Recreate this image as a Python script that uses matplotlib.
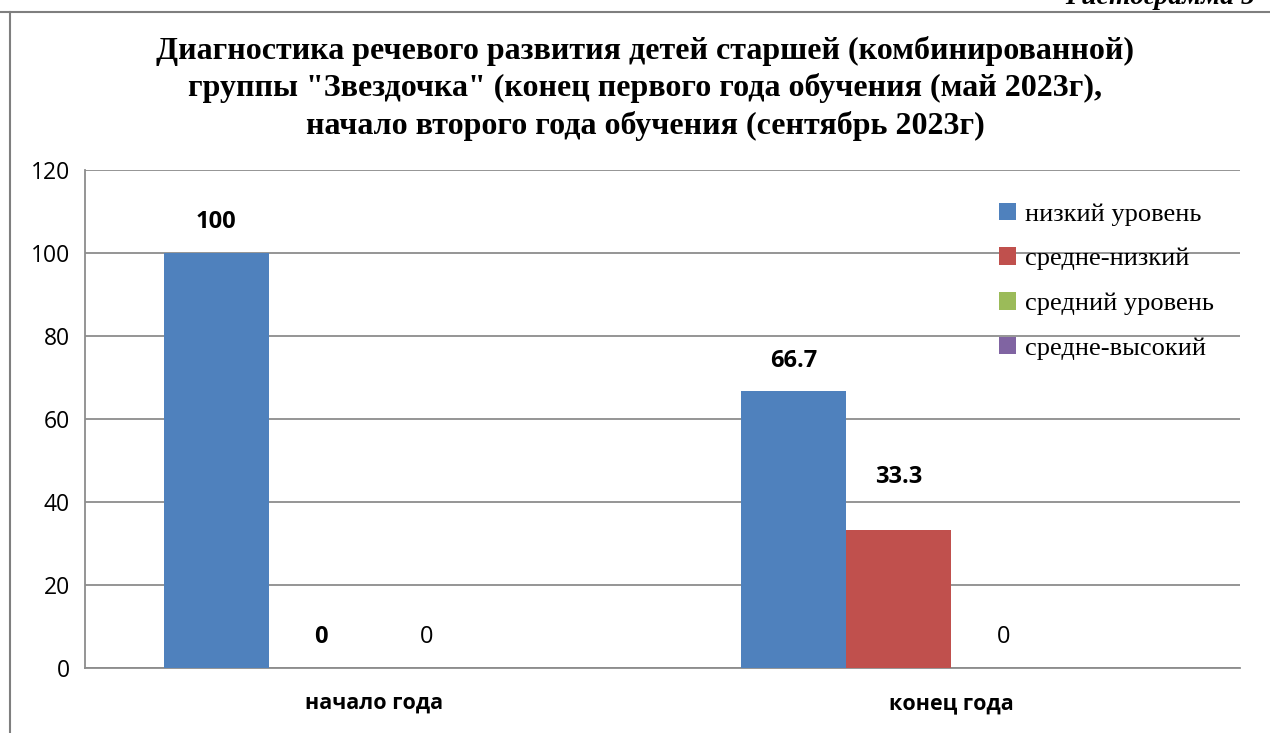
import matplotlib
matplotlib.use("Agg")
import matplotlib.pyplot as plt
import numpy as np
from matplotlib.lines import Line2D
from matplotlib.patches import Patch

categories = ["начало года", "конец года"]
series_names = ["низкий уровень", "средне-низкий", "средний уровень", "средне-высокий"]
low = [100, 66.7]
mid_low = [0, 33.3]
middle = [0, 0]
mid_high = [0, 0]
yticks = [0, 20, 40, 60, 80, 100, 120]

title = ("Диагностика речевого развития детей старшей (комбинированной)\n"
         "группы \"Звездочка\" (конец первого года обучения (май 2023г),\n"
         "начало второго года обучения (сентябрь 2023г)")

colors = ["#4F81BD", "#C0504D", "#9BBB59", "#8064A2"]
grid_gray = "#8C8C8C"

fig = plt.figure(figsize=(12.7, 7.33), dpi=100)
ax = fig.add_axes([85 / 1270, 1 - 668 / 733, 1155 / 1270, 498 / 733])

x = np.arange(len(categories))
width = 0.1818
all_series = [low, mid_low, middle, mid_high]
for i, (vals, col) in enumerate(zip(all_series, colors)):
    ax.bar(x + (i - 1.5) * width, vals, width, color=col, zorder=3)

# value labels: series 1-2 bold, series 3 regular, series 4 not shown
label_specs = [(0, low, "bold", [22, 22]), (1, mid_low, "bold", [22, 38]),
               (2, middle, "normal", [22, 22])]
for i, vals, weight, offs in label_specs:
    for j, v in enumerate(vals):
        txt = f"{v:g}"
        ax.annotate(txt, (x[j] + (i - 1.5) * width, v), xytext=(0, offs[j]),
                    textcoords="offset points", ha="center", va="center",
                    fontsize=17, fontweight=weight, family="Open Sans")

ax.set_xlim(-0.5, 1.5)
ax.set_ylim(0, 120)
ax.set_yticks(yticks)
ax.set_yticklabels([str(t) for t in yticks], fontsize=16.5, family="Open Sans")
ax.set_xticks(x)
ax.set_xticklabels(categories, fontsize=15.5, fontweight="bold", family="Open Sans")
ax.tick_params(axis="x", length=0, pad=18)
ax.tick_params(axis="y", length=0, pad=11)
ax.grid(axis="y", color=grid_gray, linewidth=1.3, zorder=0)
for side in ["top", "right"]:
    ax.spines[side].set_visible(False)
for side in ["left", "bottom"]:
    ax.spines[side].set_color(grid_gray)
    ax.spines[side].set_linewidth(1.3)

handles = [Patch(facecolor=c, edgecolor="none") for c in colors]
leg = ax.legend(handles, series_names, loc="upper left",
                bbox_to_anchor=((988 - 85) / 1155, (668 - 192) / 498),
                frameon=False, prop={"family": "Liberation Serif", "size": 19},
                handlelength=0.65, handleheight=0.65, handletextpad=0.35,
                labelspacing=0.82, borderaxespad=0)

fig.text(645 / 1270, 1 - 36 / 733, title, ha="center", va="top", fontsize=23,
         fontweight="bold", family="Liberation Serif", linespacing=1.32)

fig.text(1255 / 1270, 1 - 4 / 733, "Гистограмма 5", ha="right", va="baseline",
         fontsize=20, fontweight="bold", style="italic", family="Liberation Serif")

fig.add_artist(Line2D([0, 1], [1 - 12 / 733] * 2, color="#7F7F7F", linewidth=1.5))
fig.add_artist(Line2D([10 / 1270] * 2, [0, 1 - 12 / 733], color="#7F7F7F", linewidth=1.5))

fig.savefig("out.png", dpi=100)
